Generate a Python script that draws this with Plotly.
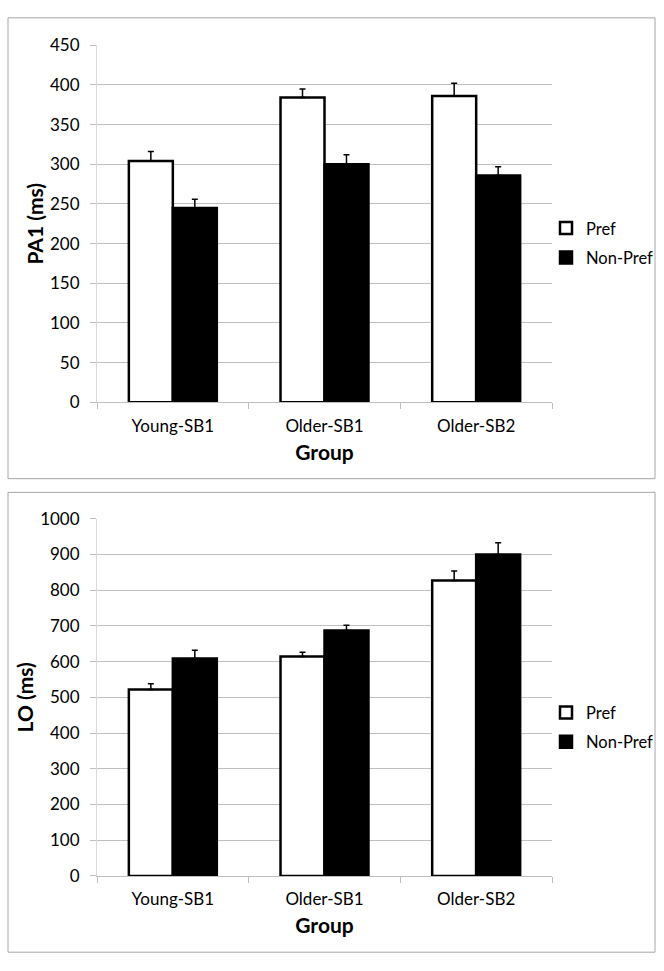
import plotly.graph_objects as go
from plotly.subplots import make_subplots

groups = ["Young-SB1", "Older-SB1", "Older-SB2"]
series_names = ["Pref", "Non-Pref"]

pa1_pref = [304, 384, 386]
pa1_pref_err = [12, 11, 16]
pa1_nonpref = [245, 300, 286]
pa1_nonpref_err = [11, 12, 11]

lo_pref = [522, 614, 827]
lo_pref_err = [16, 12, 27]
lo_nonpref = [609, 687, 900]
lo_nonpref_err = [23, 15, 33]

W, H = 664, 971
FONT = "Lato"

def px(x):
    return x / W

def py(y):
    return 1 - y / H

fig = make_subplots(rows=2, cols=1)

def add_pair(row, pref, pref_err, nonpref, nonpref_err, legend):
    fig.add_trace(go.Bar(
        x=groups, y=pref, name=series_names[0], legendgroup=legend + "a",
        marker=dict(color="white", line=dict(color="black", width=2.5)),
        error_y=dict(type="data", array=pref_err, arrayminus=[0] * len(pref),
                     symmetric=False, color="black", thickness=1.5, width=3),
        legend=legend,
    ), row=row, col=1)
    fig.add_trace(go.Bar(
        x=groups, y=nonpref, name=series_names[1], legendgroup=legend + "b",
        marker=dict(color="black", line=dict(color="black", width=2.5)),
        error_y=dict(type="data", array=nonpref_err, arrayminus=[0] * len(nonpref),
                     symmetric=False, color="black", thickness=1.5, width=3),
        legend=legend,
    ), row=row, col=1)

add_pair(1, pa1_pref, pa1_pref_err, pa1_nonpref, pa1_nonpref_err, "legend")
add_pair(2, lo_pref, lo_pref_err, lo_nonpref, lo_nonpref_err, "legend2")

xdom = [px(97), px(552)]
leg_common = dict(xanchor="left", yanchor="middle", traceorder="grouped",
                  font=dict(family=FONT, size=16.5), tracegroupgap=5, itemwidth=30,
                  bgcolor="rgba(0,0,0,0)")
fig.update_layout(
    width=W, height=H,
    margin=dict(l=0, r=0, t=0, b=0),
    paper_bgcolor="white", plot_bgcolor="white",
    barmode="group", bargap=0.42, bargroupgap=0,
    font=dict(family=FONT, size=17, color="black"),
    xaxis=dict(domain=xdom, anchor="y"),
    xaxis2=dict(domain=xdom, anchor="y2"),
    yaxis=dict(domain=[py(400), py(35)], anchor="x", range=[0, 450], dtick=50),
    yaxis2=dict(domain=[py(884), py(519)], anchor="x2", range=[0, 1000], dtick=100),
    legend=dict(x=px(546), y=py(237), **leg_common),
    legend2=dict(x=px(546), y=py(732), **leg_common),
)

for ax in ["xaxis", "xaxis2"]:
    fig.layout[ax].update(
        showline=True, linecolor="#bfbfbf", linewidth=1,
        ticks="outside", tickson="boundaries", ticklen=6, tickcolor="#bfbfbf",
        ticklabelstandoff=8,
        showgrid=False, tickfont=dict(family=FONT, size=17),
        title=dict(text="<b>Group</b>", font=dict(family=FONT, size=21), standoff=10),
    )

for ax, title in [("yaxis", "<b>PA1 (ms)</b>"), ("yaxis2", "<b>LO (ms)</b>")]:
    fig.layout[ax].update(
        showline=True, linecolor="#d9d9d9", linewidth=1,
        showgrid=True, gridcolor="#bfbfbf", gridwidth=1,
        ticks="outside", ticklen=6, tickcolor="#bfbfbf",
        ticklabelstandoff=7,
        zeroline=False, tickfont=dict(family=FONT, size=17),
        title=dict(text=title, font=dict(family=FONT, size=21), standoff=0),
    )

for (y0, y1) in [(7, 478), (492, 962)]:
    fig.add_shape(type="rect", xref="paper", yref="paper",
                  x0=px(8), x1=px(655), y0=py(y1), y1=py(y0),
                  line=dict(color="#a6a6a6", width=1), fillcolor="rgba(0,0,0,0)")

fig.write_html("out.html", config={"displayModeBar": False},
               post_script="document.body.style.margin='0';document.body.style.overflow='hidden';")
